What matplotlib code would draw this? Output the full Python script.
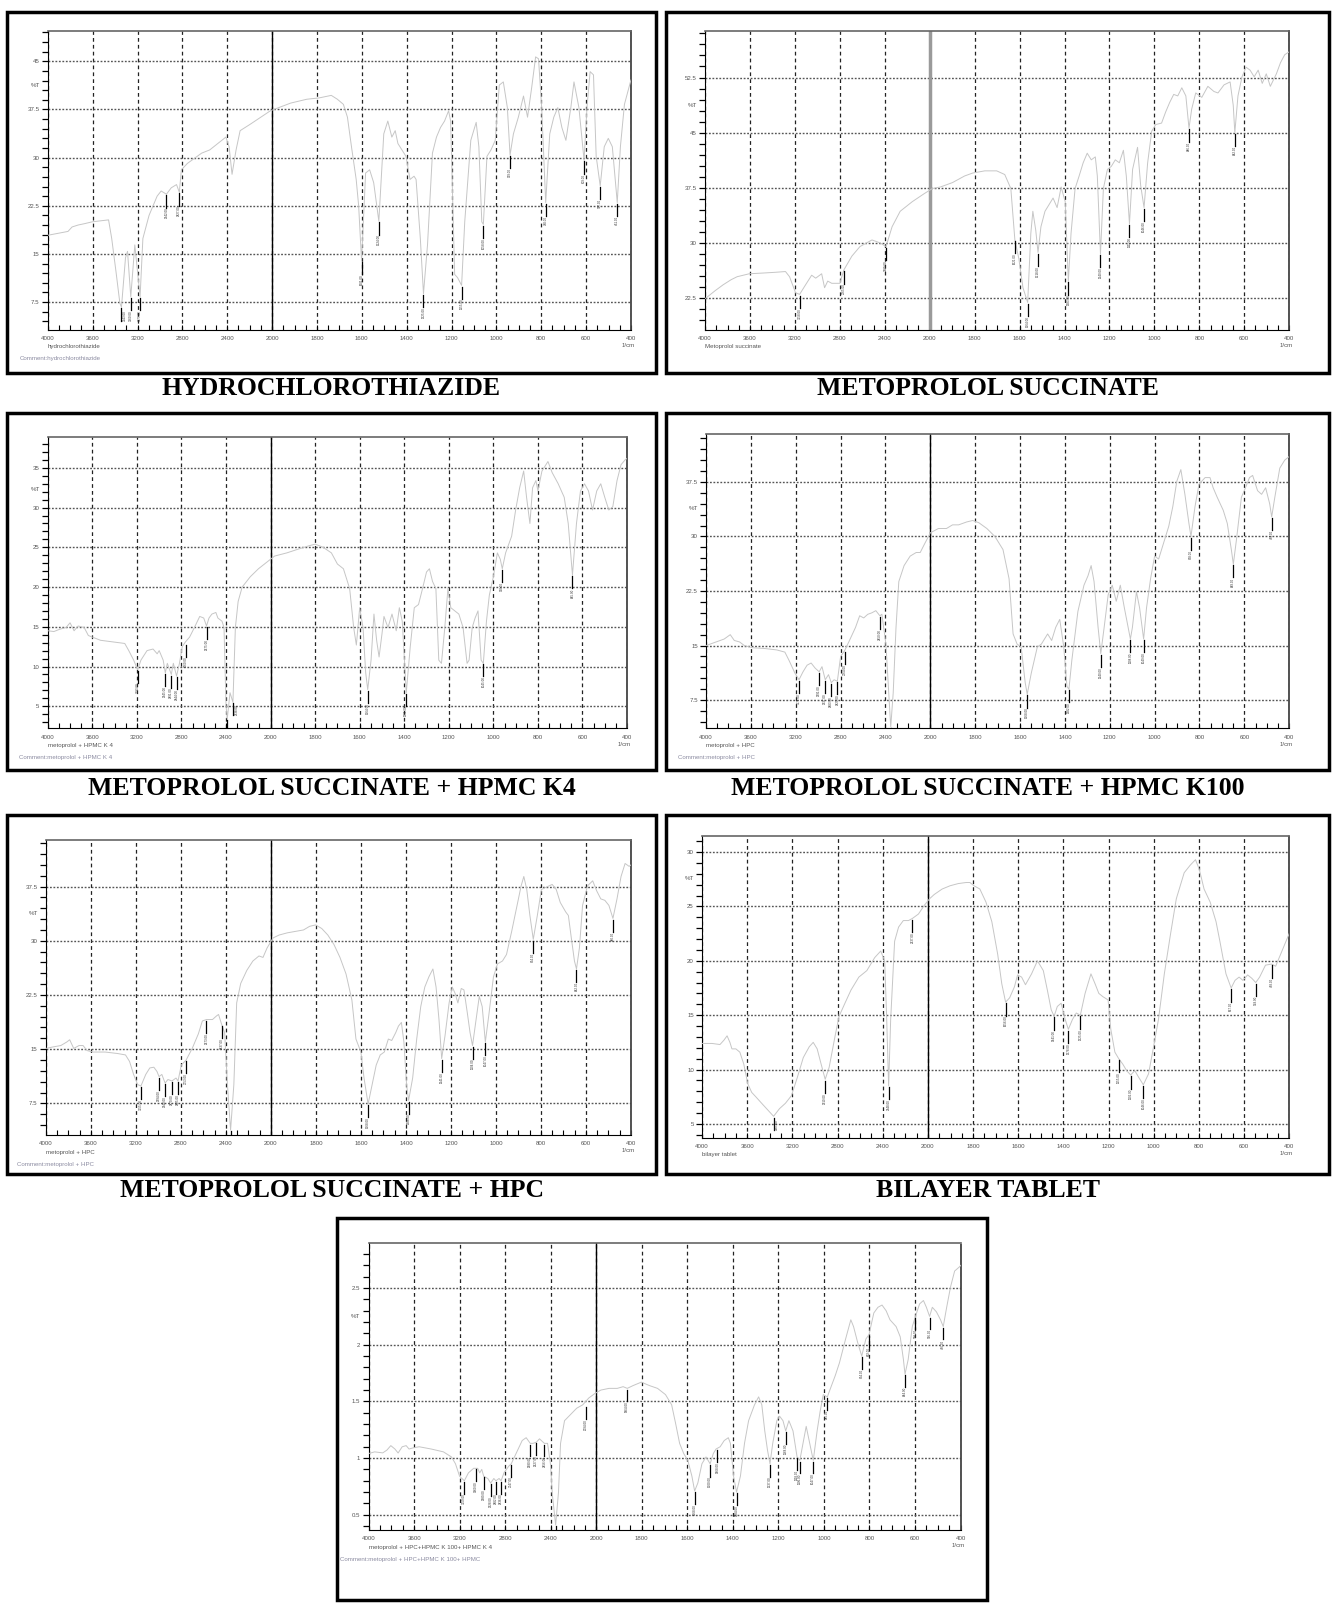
import numpy as np
import matplotlib
matplotlib.use("Agg")
import matplotlib.pyplot as plt
from matplotlib.patches import Rectangle
from matplotlib.ticker import FixedLocator, FixedFormatter, MultipleLocator, FormatStrFormatter

# output size, and the pixel frame the layout below was measured in
W, H = 1336, 1612
W_REF, H_REF = 1370, 1653
K = W / W_REF

# ---- data (wavenumber 1/cm, %T) ----
hctz_spectrum = [(4000,17.9),(3820,18.5),(3783,19.2),(3729,19.5),(3675,19.7),(3603,20.0),(3458,20.3),(3430,17.4),(3393,12.4),(3357,7.3),(3343,6.7),(3307,14.4),(3289,15.4),(3260,8.3),(3224,16.4),(3177,8.3),(3152,17.4),(3097,21.0),(3025,24.0),(2989,24.8),(2942,24.3),(2899,25.3),(2852,25.8),(2827,24.6),(2809,28.1),(2755,29.1),(2628,30.7),(2556,31.2),(2484,32.2),(2412,33.2),(2383,31.7),(2357,27.4),(2321,31.2),(2285,34.2),(2195,35.2),(2015,37.3),(1917,38.5),(1845,39.1),(1791,39.3),(1736,39.7),(1709,39.1),(1682,38.3),(1664,36.3),(1646,31.7),(1625,26.6),(1614,22.5),(1601,13.9),(1583,27.6),(1565,28.1),(1547,26.1),(1524,20.1),(1502,33.7),(1484,35.7),(1466,33.2),(1451,34.2),(1439,32.2),(1421,31.2),(1403,30.2),(1385,26.6),(1367,27.1),(1358,26.6),(1339,17.4),(1325,8.8),(1307,16.4),(1285,30.7),(1267,33.2),(1249,34.7),(1231,35.7),(1213,37.3),(1204,35.7),(1186,11.8),(1173,11.3),(1155,10.1),(1141,20.0),(1114,32.7),(1090,35.5),(1078,31.7),(1065,20.0),(1058,19.6),(1042,30.2),(1024,31.2),(1005,32.7),(987,41.3),(969,41.8),(951,37.8),(939,30.4),(924,33.7),(902,36.3),(879,39.6),(861,36.3),(843,40.8),(825,45.7),(812,45.4),(798,37.8),(780,23.0),(762,33.7),(744,36.3),(726,37.8),(708,34.7),(690,32.7),(668,37.8),(654,41.8),(632,37.8),(609,29.6),(596,37.8),(582,43.4),(567,42.9),(555,30.2),(537,25.6),(519,31.7),(501,33.0),(483,31.7),(461,23.0),(447,31.7),(429,38.3),(400,42.1)]
hctz_peaks = [(3343,6.7),(3260,8.3),(3177,8.3),(2942,24.3),(2827,24.6),(1601,13.9),(1524,20.1),(1325,8.8),(1155,10.1),(1058,19.6),(939,30.4),(780,23.0),(609,29.6),(537,25.6),(461,23.0)]

meto_spectrum = [(4000,22.4),(3910,23.5),(3839,24.3),(3767,25.0),(3714,25.4),(3606,25.8),(3481,25.9),(3373,26.0),(3284,26.1),(3248,25.4),(3194,23.2),(3158,23.0),(3105,24.3),(3051,25.6),(3015,25.2),(2962,25.8),(2936,23.9),(2908,24.8),(2872,24.5),(2800,24.5),(2765,26.3),(2693,28.2),(2621,29.5),(2514,30.4),(2442,30.0),(2389,29.5),(2335,32.2),(2263,34.3),(2156,35.6),(2049,36.7),(1988,37.4),(1953,37.6),(1899,38.2),(1845,39.1),(1809,39.5),(1755,39.8),(1702,39.8),(1666,39.3),(1639,37.4),(1621,30.4),(1603,27.8),(1585,23.9),(1564,21.9),(1550,31.3),(1541,34.3),(1528,31.7),(1518,28.7),(1505,32.2),(1487,34.3),(1469,35.2),(1451,36.1),(1433,34.8),(1415,37.6),(1397,35.6),(1383,24.8),(1371,31.3),(1353,37.4),(1335,39.1),(1317,40.9),(1299,42.2),(1281,41.3),(1263,41.7),(1254,39.1),(1240,28.5),(1227,37.4),(1209,40.0),(1192,40.4),(1174,41.3),(1156,40.9),(1138,42.6),(1125,39.1),(1111,32.6),(1097,40.0),(1075,43.0),(1061,37.8),(1046,34.8),(1030,40.9),(1012,45.2),(994,46.1),(968,46.3),(950,47.8),(932,49.1),(914,50.2),(896,50.0),(878,51.1),(860,50.0),(846,45.6),(834,48.2),(816,50.4),(789,49.8),(762,51.3),(735,50.6),(717,50.4),(690,51.5),(663,51.9),(649,48.7),(642,45.0),(628,50.0),(610,52.6),(592,53.9),(574,53.5),(556,52.6),(538,53.5),(520,51.7),(502,53.0),(484,51.3),(457,53.0),(439,54.5),(420,55.6),(400,56.0)]
meto_peaks = [(3158,23.0),(2765,26.3),(2389,29.5),(1621,30.4),(1564,21.9),(1518,28.7),(1383,24.8),(1240,28.5),(1111,32.6),(1046,34.8),(846,45.6),(642,45.0)]

k4_spectrum = [(4000,14.5),(3945,14.4),(3891,14.7),(3836,14.9),(3800,15.5),(3764,14.5),(3727,15.1),(3673,14.9),(3636,13.9),(3600,13.7),(3527,13.3),(3418,13.1),(3309,12.9),(3273,12.0),(3229,10.8),(3193,9.6),(3164,10.8),(3109,12.0),(3055,12.2),(3018,11.6),(3000,12.0),(2964,10.8),(2945,9.2),(2927,10.4),(2891,9.0),(2873,10.4),(2844,8.8),(2818,10.4),(2793,12.5),(2764,13.1),(2727,13.7),(2684,14.9),(2636,16.3),(2600,16.1),(2575,15.1),(2553,16.1),(2527,16.6),(2491,16.8),(2473,16.1),(2436,15.7),(2418,14.9),(2400,5.1),(2389,3.4),(2364,6.7),(2338,5.5),(2316,14.9),(2291,18.2),(2255,20.0),(2182,21.3),(2109,22.3),(2036,23.1),(1982,23.9),(1927,24.3),(1873,24.8),(1827,25.2),(1800,25.4),(1764,25.0),(1727,24.3),(1700,22.9),(1673,22.3),(1645,19.8),(1627,14.9),(1615,12.7),(1600,17.4),(1585,14.9),(1573,9.2),(1564,7.1),(1549,10.8),(1536,16.6),(1524,13.3),(1513,11.2),(1500,14.1),(1491,16.3),(1473,14.9),(1455,16.6),(1436,14.5),(1422,17.4),(1409,15.7),(1391,6.7),(1373,12.5),(1355,17.4),(1336,17.8),(1318,19.8),(1300,21.9),(1287,22.3),(1273,20.7),(1258,19.8),(1245,10.8),(1233,10.4),(1218,14.9),(1204,19.8),(1191,17.4),(1173,17.0),(1155,16.6),(1136,14.9),(1118,10.4),(1109,10.8),(1095,14.9),(1082,16.1),(1069,17.0),(1055,10.8),(1045,10.4),(1031,15.7),(1018,19.0),(1000,21.3),(982,24.3),(969,23.5),(960,22.3),(945,24.3),(918,26.4),(900,29.7),(882,32.5),(864,34.6),(851,31.3),(836,28.0),(824,32.5),(809,33.4),(800,32.1),(782,34.6),(755,35.8),(736,34.4),(709,33.0),(682,31.3),(664,28.0),(645,21.5),(627,28.0),(609,32.1),(591,33.0),(573,32.1),(555,29.7),(536,32.1),(518,33.0),(500,31.3),(482,29.7),(464,30.1),(445,33.4),(427,35.4),(409,36.0),(400,36.2)]
k4_peaks = [(3193,9.6),(2945,9.2),(2891,9.0),(2844,8.8),(2760,12.9),(2575,15.1),(2389,3.4),(2338,5.5),(1564,7.1),(1391,6.7),(1045,10.4),(960,22.3),(645,21.5)]

k100_spectrum = [(4000,15.0),(3910,15.5),(3838,15.9),(3784,16.5),(3748,15.7),(3701,15.5),(3658,15.0),(3586,14.7),(3477,14.6),(3369,14.4),(3297,14.1),(3261,13.0),(3207,11.2),(3171,10.3),(3135,11.4),(3099,12.3),(3063,12.6),(3027,11.9),(2991,11.4),(2966,12.1),(2937,10.3),(2908,11.0),(2883,9.9),(2858,10.3),(2829,10.1),(2800,13.5),(2764,14.3),(2721,15.7),(2667,17.5),(2630,19.1),(2594,18.8),(2558,19.3),(2522,19.5),(2486,19.8),(2450,19.1),(2432,19.3),(2396,15.2),(2371,8.5),(2353,3.8),(2331,8.5),(2306,17.5),(2281,23.8),(2234,26.0),(2180,27.3),(2126,27.8),(2090,27.8),(2054,28.9),(2000,30.5),(1964,31.1),(1928,31.1),(1901,31.6),(1874,31.6),(1838,32.0),(1811,32.2),(1784,31.9),(1748,31.1),(1712,30.0),(1676,28.2),(1649,24.2),(1631,16.6),(1613,15.2),(1595,14.8),(1577,9.9),(1568,8.3),(1550,11.2),(1523,14.8),(1505,15.2),(1477,16.6),(1459,15.7),(1441,17.5),(1423,18.6),(1405,14.8),(1391,9.4),(1382,9.0),(1369,13.0),(1342,19.7),(1315,23.3),(1297,24.6),(1283,26.0),(1270,23.8),(1252,17.5),(1240,13.9),(1225,17.5),(1207,22.0),(1189,23.3),(1171,21.1),(1153,23.3),(1135,20.2),(1108,15.9),(1099,17.5),(1081,22.4),(1067,20.2),(1049,15.9),(1036,20.2),(1018,24.2),(1000,27.3),(982,26.9),(964,28.7),(937,31.4),(919,34.1),(901,37.6),(883,39.2),(865,35.8),(847,31.8),(838,30.0),(820,34.1),(802,37.2),(775,38.1),(753,38.1),(739,36.7),(721,35.4),(694,33.6),(676,31.8),(658,28.2),(649,26.2),(635,29.6),(613,35.4),(595,36.7),(577,38.1),(563,38.4),(541,36.3),(523,35.8),(505,36.7),(487,34.5),(478,32.7),(464,35.4),(442,39.4),(420,40.5),(400,41.0)]
k100_peaks = [(3171,10.3),(2991,11.4),(2937,10.3),(2883,9.9),(2829,10.1),(2764,14.3),(2450,19.1),(2353,3.8),(1568,8.3),(1382,9.0),(1240,13.9),(1108,15.9),(1049,15.9),(838,30.0),(649,26.2),(478,32.7)]

hpc_spectrum = [(4000,15.1),(3939,15.3),(3867,15.5),(3813,16.0),(3788,16.3),(3752,15.1),(3705,15.5),(3669,15.5),(3633,14.8),(3580,14.6),(3472,14.6),(3364,14.4),(3292,14.2),(3256,13.3),(3220,11.5),(3184,10.1),(3155,9.9),(3112,11.5),(3076,12.4),(3040,12.5),(3012,11.9),(2994,11.2),(2969,11.5),(2940,10.3),(2915,10.8),(2879,10.6),(2843,11.0),(2825,10.6),(2796,12.8),(2753,13.5),(2699,15.1),(2645,17.1),(2609,18.9),(2573,19.1),(2519,19.1),(2483,19.6),(2465,19.8),(2437,18.4),(2411,17.3),(2386,10.1),(2358,3.8),(2329,10.1),(2304,21.4),(2268,24.1),(2214,25.9),(2160,27.2),(2106,27.9),(2070,27.7),(2034,29.0),(1990,30.4),(1963,30.8),(1927,31.1),(1891,31.3),(1855,31.5),(1828,32.0),(1801,32.2),(1774,31.7),(1747,30.8),(1720,29.5),(1693,27.7),(1666,25.4),(1640,21.8),(1622,16.4),(1600,14.6),(1586,11.0),(1568,7.4),(1550,10.1),(1532,12.8),(1514,14.2),(1496,14.6),(1478,16.4),(1463,16.2),(1445,17.3),(1433,18.2),(1420,18.7),(1409,16.0),(1397,10.1),(1388,7.9),(1370,11.0),(1352,16.4),(1334,20.9),(1316,23.6),(1298,25.0),(1280,26.1),(1266,23.6),(1253,19.1),(1241,13.7),(1226,16.9),(1208,21.4),(1194,23.6),(1181,22.7),(1169,21.4),(1154,23.4),(1142,23.2),(1127,20.0),(1115,17.3),(1104,15.5),(1092,18.2),(1074,22.3),(1061,20.9),(1047,16.0),(1032,19.6),(1011,25.0),(993,26.8),(971,27.2),(953,28.1),(930,31.3),(906,34.9),(888,37.6),(876,38.9),(863,37.1),(849,33.5),(834,30.2),(816,33.5),(798,37.1),(777,37.4),(750,37.8),(732,37.1),(714,35.3),(690,34.0),(678,33.5),(665,30.4),(651,27.2),(642,26.1),(629,29.0),(615,34.9),(593,37.6),(570,38.3),(552,36.9),(534,35.8),(516,35.6),(498,34.9),(480,33.1),(462,35.8),(444,38.9),(426,40.7),(408,40.3),(400,40.5)]
hpc_peaks = [(3155,9.9),(2994,11.2),(2940,10.3),(2879,10.6),(2825,10.6),(2753,13.5),(2573,19.1),(2437,18.4),(2358,3.8),(1568,7.4),(1388,7.9),(1241,13.7),(1104,15.5),(1047,16.0),(834,30.2),(642,26.1),(480,33.1)]

bilayer_spectrum = [(4000,12.4),(3912,12.4),(3842,12.3),(3807,12.7),(3779,13.1),(3754,12.5),(3736,11.9),(3701,11.9),(3666,11.6),(3631,10.5),(3596,8.7),(3561,7.9),(3525,7.5),(3473,6.9),(3420,6.3),(3367,5.7),(3315,6.4),(3262,6.9),(3209,7.6),(3156,9.3),(3104,11.1),(3051,12.1),(3016,12.5),(2981,11.9),(2946,10.5),(2910,9.1),(2875,10.2),(2822,13.1),(2787,14.9),(2735,16.1),(2682,17.3),(2612,18.5),(2541,19.1),(2471,20.3),(2418,20.9),(2383,20.0),(2365,14.6),(2348,8.5),(2330,14.6),(2295,21.8),(2260,23.1),(2218,23.7),(2172,23.7),(2137,23.9),(2084,24.3),(2032,25.1),(1993,25.7),(1972,26.1),(1937,26.6),(1902,26.9),(1866,27.1),(1831,27.2),(1814,27.2),(1796,26.9),(1770,26.6),(1743,25.4),(1717,23.6),(1691,20.6),(1673,17.9),(1656,16.2),(1638,16.6),(1617,17.6),(1603,18.7),(1585,18.5),(1568,17.8),(1541,18.8),(1515,20.0),(1489,19.1),(1471,17.3),(1454,15.5),(1441,14.9),(1427,15.8),(1410,16.1),(1392,14.6),(1378,13.7),(1360,14.6),(1343,15.2),(1325,15.0),(1304,17.0),(1278,18.8),(1260,17.9),(1243,17.0),(1225,16.7),(1202,16.4),(1190,13.7),(1172,11.6),(1155,11.0),(1137,10.5),(1120,9.9),(1102,9.5),(1084,9.9),(1067,9.3),(1046,8.6),(1023,9.6),(1005,11.6),(979,14.6),(953,18.8),(926,22.4),(900,25.7),(865,28.1),(838,28.8),(815,29.3),(798,28.4),(777,26.6),(750,25.4),(724,23.6),(707,21.8),(680,18.8),(657,17.5),(640,18.2),(622,18.5),(605,18.2),(584,18.7),(566,18.4),(548,18.0),(531,18.5),(505,19.6),(478,19.7),(460,19.5),(440,20.5),(420,21.5),(400,22.5)]
bilayer_peaks = [(3367,5.7),(2910,9.1),(2348,8.5),(2137,23.9),(1656,16.2),(1441,14.9),(1378,13.7),(1325,15.0),(1155,11.0),(1102,9.5),(1046,8.6),(657,17.5),(548,18.0),(478,19.7)]

mix_spectrum = [(4000,1.04),(3947,1.055),(3876,1.046),(3840,1.07),(3805,1.11),(3769,1.08),(3741,1.045),(3705,1.10),(3670,1.11),(3645,1.08),(3610,1.09),(3556,1.10),(3450,1.08),(3343,1.055),(3272,1.01),(3237,0.95),(3201,0.84),(3159,0.80),(3123,0.87),(3077,0.91),(3042,0.91),(3024,0.87),(3006,0.90),(2989,0.84),(2953,0.82),(2928,0.78),(2900,0.82),(2882,0.80),(2854,0.82),(2836,0.80),(2811,0.87),(2768,0.93),(2747,0.95),(2705,1.04),(2651,1.155),(2616,1.18),(2580,1.13),(2556,1.13),(2527,1.14),(2499,1.17),(2456,1.13),(2428,1.13),(2403,0.95),(2385,0.67),(2357,0.41),(2332,0.70),(2314,1.13),(2279,1.33),(2226,1.385),(2172,1.44),(2119,1.47),(2066,1.53),(2012,1.57),(1980,1.60),(1944,1.615),(1908,1.615),(1882,1.63),(1864,1.615),(1838,1.64),(1802,1.67),(1767,1.64),(1731,1.615),(1696,1.56),(1669,1.47),(1651,1.30),(1634,1.13),(1616,1.04),(1598,0.98),(1580,0.84),(1568,0.71),(1554,0.78),(1536,0.95),(1518,1.01),(1500,0.95),(1486,1.04),(1474,1.08),(1456,1.10),(1438,1.155),(1420,1.18),(1411,1.13),(1397,0.84),(1384,0.70),(1367,0.84),(1349,1.13),(1331,1.33),(1305,1.47),(1287,1.54),(1273,1.47),(1260,1.24),(1248,1.07),(1237,0.95),(1225,1.13),(1207,1.33),(1195,1.37),(1180,1.33),(1168,1.24),(1154,1.33),(1136,1.24),(1118,1.01),(1106,0.98),(1092,1.13),(1078,1.28),(1065,1.155),(1047,0.98),(1030,1.24),(1017,1.41),(1003,1.56),(985,1.54),(976,1.59),(950,1.73),(932,1.84),(905,2.05),(882,2.22),(870,2.16),(852,2.02),(834,1.90),(816,2.05),(802,2.09),(781,2.28),(763,2.33),(745,2.35),(727,2.30),(710,2.22),(683,2.16),(665,2.07),(651,1.87),(644,1.74),(630,1.87),(612,2.16),(598,2.25),(580,2.36),(563,2.39),(550,2.33),(536,2.25),(524,2.33),(506,2.29),(488,2.22),(476,2.16),(461,2.33),(444,2.51),(426,2.65),(403,2.69),(400,2.70)]
mix_peaks = [(3159,0.80),(3060,0.91),(2989,0.84),(2928,0.78),(2882,0.80),(2836,0.80),(2747,0.95),(2580,1.13),(2527,1.14),(2456,1.13),(2357,0.41),(2094,1.46),(1864,1.615),(1568,0.71),(1500,0.95),(1468,1.08),(1384,0.70),(1237,0.95),(1168,1.24),(1118,1.01),(1106,0.98),(1047,0.98),(985,1.54),(834,1.90),(802,2.09),(644,1.74),(598,2.25),(536,2.25),(476,2.16)]

x_major = [4000, 3600, 3200, 2800, 2400, 2000, 1800, 1600, 1400, 1200, 1000, 800, 600, 400]
titles = ["HYDROCHLOROTHIAZIDE", "METOPROLOL SUCCINATE",
          "METOPROLOL SUCCINATE + HPMC K4", "METOPROLOL SUCCINATE + HPMC K100",
          "METOPROLOL SUCCINATE + HPC", "BILAYER TABLET"]
sample_names = ["hydrochlorothiazide", "Metoprolol succinate", "metoprolol + HPMC K 4",
                "metoprolol + HPC", "metoprolol + HPC", "bilayer tablet",
                "metoprolol + HPC+HPMC K 100+ HPMC K 4"]
comments = ["Comment:hydrochlorothiazide", None, "Comment:metoprolol + HPMC K 4",
            "Comment:metoprolol + HPC", "Comment:metoprolol + HPC", None,
            "Comment:metoprolol + HPC+HPMC K 100+ HPMC"]

FS = 4.5 * K  # small instrument text


# Shimadzu style axis: 4000-2000 at half the scale of 2000-400
def fwd(w):
    w = np.asarray(w, dtype=float)
    return np.where(w <= 2000, w / 200.0, 10 + (w - 2000) / 400.0)


def inv(p):
    p = np.asarray(p, dtype=float)
    return np.where(p <= 10, p * 200.0, 2000 + (p - 10) * 400.0)


def frac(x0, y0, x1, y1):
    return [x0 / W_REF, 1 - y1 / H_REF, (x1 - x0) / W_REF, (y1 - y0) / H_REF]


def draw_panel(fig, rect, spectrum, peaks, ylim, ystep, pct_y, sample, comment, gray2000=False):
    ax = fig.add_axes(frac(*rect))
    ax.set_xscale("function", functions=(fwd, inv))
    wn = [p[0] for p in spectrum]
    tr = [p[1] for p in spectrum]
    ax.plot(wn, tr, color="#c6c6c6", lw=0.7, zorder=3)
    ax.set_xlim(4000, 400)
    ax.set_ylim(*ylim)

    minors = [v for v in list(range(2100, 4000, 100)) + list(range(450, 2000, 50)) if v not in x_major]
    ax.xaxis.set_major_locator(FixedLocator(x_major))
    ax.xaxis.set_major_formatter(FixedFormatter([str(v) for v in x_major]))
    ax.xaxis.set_minor_locator(FixedLocator(minors))
    ax.yaxis.set_major_locator(MultipleLocator(ystep))
    ax.yaxis.set_minor_locator(MultipleLocator(ystep / 5))
    ax.yaxis.set_major_formatter(FormatStrFormatter("%g"))

    ax.xaxis.grid(True, which="major", color="#222222", lw=0.9, ls=(0, (3, 2.5)))
    ax.yaxis.grid(True, which="major", color="#555555", lw=1.0, ls=(0, (1.3, 1.2)))
    if gray2000:
        ax.axvline(2000, color="#9a9a9a", lw=2.5, zorder=2)
    else:
        ax.axvline(2000, color="black", lw=1.0, zorder=2)

    ax.tick_params(axis="x", which="both", direction="in", length=3.4, width=0.8,
                   labelsize=FS, labelcolor="#555555", pad=4.4)
    ax.tick_params(axis="y", which="both", direction="out", length=4.4, width=0.9,
                   labelsize=FS, labelcolor="#555555", pad=1.5)
    ax.spines["left"].set_color("black")
    ax.spines["bottom"].set_color("black")
    ax.spines["top"].set_color("#666666")
    ax.spines["top"].set_linewidth(1.2)
    ax.spines["right"].set_color("#444444")
    ax.spines["right"].set_linestyle((0, (2, 1)))
    ax.spines["right"].set_linewidth(1.3)

    # peak pick markers: short black bar under each minimum with its wavenumber
    span = ylim[1] - ylim[0]
    for w, t in peaks:
        y_end = t - 0.045 * span
        ax.plot([w, w], [t - 0.004 * span, y_end], color="black", lw=0.9, zorder=4)
        if y_end - 0.045 * span < ylim[0]:
            # no room underneath: write the value beside the bar
            ax.annotate("%.2f" % w, xy=(w, y_end), xytext=(1.2, 0), textcoords="offset points",
                        rotation=90, fontsize=2.2, ha="left", va="bottom", color="#333333", zorder=4)
        else:
            ax.text(w, y_end, "%.2f" % w, rotation=90, fontsize=2.2, ha="center", va="top",
                    color="#333333", zorder=4)

    ax.annotate("%T", xy=(0, pct_y), xycoords=("axes fraction", "data"), xytext=(-6 * K, 0),
                textcoords="offset points", ha="right", va="center", fontsize=FS, color="#555555")
    ax.annotate(sample, xy=(0, 0), xycoords="axes fraction", xytext=(0, -12.5 * K),
                textcoords="offset points", ha="left", va="center", fontsize=FS, color="#555555")
    ax.annotate("1/cm", xy=(1, 0), xycoords="axes fraction", xytext=(-2, -11.5 * K),
                textcoords="offset points", ha="center", va="center", fontsize=FS, color="#555555")
    if comment:
        ax.annotate(comment, xy=(0, 0), xycoords="axes fraction", xytext=(-21 * K, -21.5 * K),
                    textcoords="offset points", ha="left", va="center", fontsize=FS, color="#8a8aa0")
    return ax


fig = plt.figure(figsize=(W / 100, H / 100), dpi=100)
plt.rcParams["font.family"] = ["Liberation Sans", "DejaVu Sans"]

# frames round each spectrum
boxes = [(7.5, 12, 673, 382), (683, 12, 1363, 382),
         (7.5, 423, 673, 790), (683, 423, 1363, 790),
         (7.5, 836, 673, 1204), (683, 836, 1363, 1204),
         (346, 1249, 1012, 1641)]
for x0, y0, x1, y1 in boxes:
    fig.add_artist(Rectangle((x0 / W_REF, 1 - y1 / H_REF), (x1 - x0) / W_REF, (y1 - y0) / H_REF,
                             transform=fig.transFigure, fill=False, ec="black", lw=2.5))

draw_panel(fig, (49, 32, 647, 338), hctz_spectrum, hctz_peaks, (3.2, 49.7), 7.5, 41.2,
           sample_names[0], comments[0])
draw_panel(fig, (723, 32, 1322, 338), meto_spectrum, meto_peaks, (18.2, 58.8), 7.5, 48.7,
           sample_names[1], comments[1], gray2000=True)
draw_panel(fig, (49, 448, 643, 747), k4_spectrum, k4_peaks, (2.2, 38.9), 5, 32.3,
           sample_names[2], comments[2])
draw_panel(fig, (724, 445, 1322, 747), k100_spectrum, k100_peaks, (3.6, 44.1), 7.5, 33.8,
           sample_names[3], comments[3])
draw_panel(fig, (47, 861, 647, 1164), hpc_spectrum, hpc_peaks, (3.1, 44.0), 7.5, 33.8,
           sample_names[4], comments[4])
draw_panel(fig, (720, 857, 1322, 1167), bilayer_spectrum, bilayer_peaks, (3.7, 31.5), 5, 27.6,
           sample_names[5], comments[5])
draw_panel(fig, (378, 1275, 985, 1569), mix_spectrum, mix_peaks, (0.365, 2.894), 0.5, 2.25,
           sample_names[6], comments[6])

title_pos = [(340, 398), (1013, 398), (340, 809), (1013, 809), (340, 1221), (1013, 1221)]
for (cx, cy), t in zip(title_pos, titles):
    fig.text(cx / W_REF, 1 - cy / H_REF, t, ha="center", va="center", fontsize=19 * K,
             fontweight="bold", family="Liberation Serif")

fig.savefig("out.png", dpi=100)
